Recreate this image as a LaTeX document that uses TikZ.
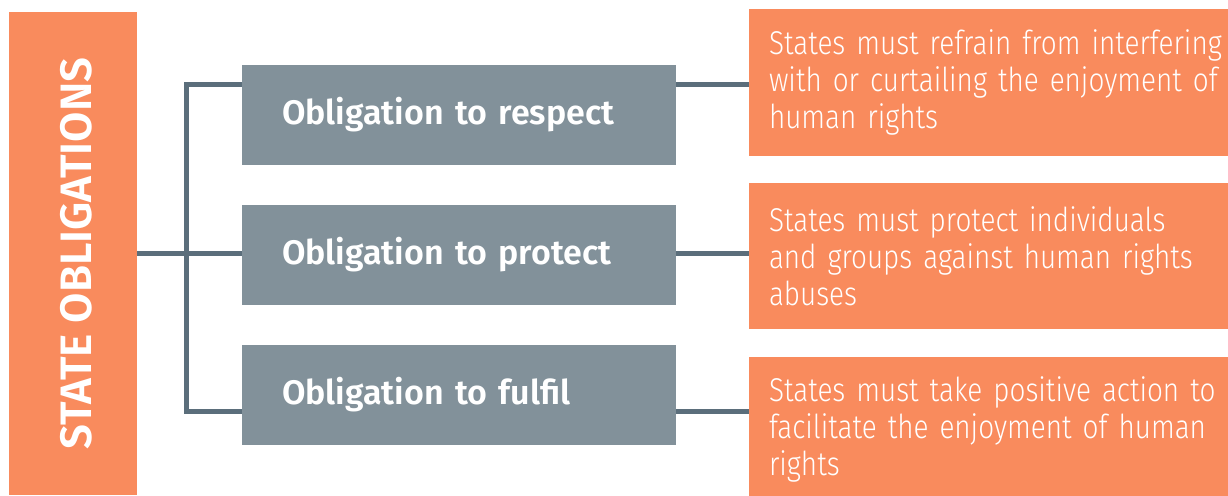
\documentclass[tikz,border=0pt]{standalone}
\usepackage{fontspec}
\setmainfont{Fira Sans}
\newfontfamily\lightfont[FakeStretch=0.845]{Fira Sans Light}
\newfontfamily\semifont{Fira Sans SemiBold}
\usetikzlibrary{positioning}
\definecolor{sorange}{HTML}{F98B5D}
\definecolor{sgrey}{HTML}{82919A}
\definecolor{sline}{HTML}{5B6E7B}
\tikzstyle{state} = [rectangle, minimum width=128pt, minimum height=483pt, inner sep=0pt, text=white, fill=sorange, font=\semifont\fontsize{44}{44}\selectfont]
\tikzstyle{obligation} = [rectangle, minimum height=100pt, text width=354pt, inner xsep=40pt, align=left, text=white, fill=sgrey, font=\semifont\fontsize{34}{40}\selectfont]
\tikzstyle{desc} = [rectangle, minimum height=146pt, text width=459pt, inner xsep=20pt, align=left, text=white, fill=sorange, font=\lightfont\fontsize{33}{37}\selectfont]
\tikzstyle{link} = [line width=5pt, draw=sline]

\begin{document}
\begin{tikzpicture}[node distance=140pt]
		\useasboundingbox (0,0) rectangle (1228pt,-495pt);
		
		\node (state) [state] at (73pt,-253.5pt) {\hspace*{6pt}\rotatebox{90}{STATE OBLIGATIONS}};
		
		\node (obl1) [obligation] at (459pt,-115pt) {Obligation to respect};
		\node (obl2) [obligation, below of=obl1] {Obligation to protect};
		\node (obl3) [obligation, below of=obl2] {Obligation to fulfil};
		
		\node (txt1) [desc, right of=obl1, xshift=399.5pt, yshift=32.5pt] {States must refrain from interfering\\with or curtailing the enjoyment of\\human rights};
		\node (txt2) [desc, below of=txt1, yshift=-33.5pt] {States must protect individuals\\and groups against human rights\\abuses};
		\node (txt3) [desc, below of=txt2, yshift=-33.5pt] {States must take positive action to\\facilitate the enjoyment of human\\rights};
		
		\coordinate (j1) at ([xshift=-55pt, yshift=31pt]obl1.west);
		\coordinate (j2) at ([xshift=-55pt, yshift=2pt]obl2.west);
		\coordinate (j3) at ([xshift=-55pt, yshift=-16pt]obl3.west);
		
		\draw [link] (obl1.west |- j1) -- (j1) -- (j3) -- (obl3.west |- j3);
		\draw [link] (state.east |- j2) -- (obl2.west |- j2);
		\draw [link] (obl1.east |- j1) -- (txt1.west |- j1);
		\draw [link] (obl2.east |- j2) -- (txt2.west |- j2);
		\draw [link] (obl3.east |- j3) -- (txt3.west |- j3);
		
\end{tikzpicture}
\end{document}
